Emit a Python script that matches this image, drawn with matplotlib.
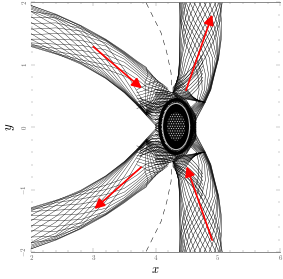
import matplotlib
matplotlib.use("Agg")
import matplotlib.pyplot as plt
from matplotlib.patches import Ellipse

plt.rcParams['mathtext.fontset'] = 'cm'
plt.rcParams['font.family'] = ['cmr10', 'DejaVu Serif']
plt.rcParams['axes.formatter.use_mathtext'] = True
plt.rcParams['hatch.linewidth'] = 0.3

# left fan, upper half: y read at these x positions
left_x = [2.0, 2.4, 2.8, 3.2, 3.5, 3.7, 3.85]
shallow_rows = [
    [1.95, 1.81, 1.63, 1.41, 1.21, 1.06, 0.96],
    [1.85, 1.80, 1.62, 1.40, 1.20, 1.05, 0.95],
    [1.76, 1.75, 1.60, 1.40, 1.19, 1.04, 0.93],
    [1.66, 1.67, 1.58, 1.39, 1.18, 1.03, 0.91],
    [1.57, 1.59, 1.54, 1.38, 1.17, 1.01, 0.89],
    [1.48, 1.50, 1.48, 1.35, 1.16, 0.99, 0.86],
    [1.41, 1.41, 1.39, 1.30, 1.13, 0.96, 0.83],
    [1.35, 1.33, 1.31, 1.24, 1.09, 0.92, 0.79],
    [1.32, 1.26, 1.23, 1.16, 1.04, 0.88, 0.75],
    [1.31, 1.21, 1.15, 1.08, 0.98, 0.84, 0.70],
    [1.30, 1.18, 1.08, 1.00, 0.90, 0.77, 0.65],
    [1.29, 1.17, 1.04, 0.93, 0.82, 0.71, 0.59],
]
left_tip_x = [3.88, 3.95, 4.00, 4.04, 4.08, 4.12, 4.15, 4.18, 4.21, 4.24, 4.26, 4.28]
left_tip_y = [0.84, 0.83, 0.78, 0.74, 0.71, 0.68, 0.65, 0.62, 0.59, 0.56, 0.53, 0.50]
steep_rows = [
    [1.95, 1.80, 1.62, 1.32, 0.92, 0.58, 0.33],
    [1.93, 1.78, 1.58, 1.19, 0.79, 0.48, 0.26],
    [1.91, 1.76, 1.52, 1.10, 0.69, 0.41, 0.23],
    [1.89, 1.74, 1.44, 1.01, 0.63, 0.40, 0.225],
    [1.86, 1.70, 1.35, 0.93, 0.605, 0.39, 0.22],
    [1.85, 1.62, 1.26, 0.87, 0.59, 0.385, 0.22],
    [1.77, 1.52, 1.17, 0.84, 0.58, 0.38, 0.215],
    [1.68, 1.43, 1.10, 0.82, 0.57, 0.375, 0.21],
    [1.59, 1.33, 1.06, 0.80, 0.565, 0.37, 0.205],
    [1.50, 1.25, 1.03, 0.79, 0.56, 0.365, 0.20],
    [1.41, 1.20, 1.02, 0.785, 0.555, 0.36, 0.195],
    [1.34, 1.18, 1.01, 0.78, 0.55, 0.355, 0.19],
]
wrap_x = [4.0, 4.15, 4.33, 4.5, 4.65]
wrap_rows = [
    [0.47, 0.47, 0.44, 0.32, 0.12],
    [0.43, 0.45, 0.43, 0.31, 0.10],
    [0.40, 0.42, 0.42, 0.30, 0.08],
    [0.36, 0.40, 0.41, 0.29, 0.06],
    [0.32, 0.37, 0.40, 0.28, 0.04],
    [0.28, 0.34, 0.39, 0.27, 0.02],
    [0.24, 0.31, 0.38, 0.26, 0.00],
    [0.19, 0.27, 0.37, 0.25, -0.02],
    [0.14, 0.23, 0.36, 0.24, -0.04],
    [0.07, 0.18, 0.35, 0.22, -0.06],
    [0.05, 0.15, 0.33, 0.21, -0.07],
    [0.03, 0.12, 0.31, 0.19, -0.08],
]
over_rows = [
    [0.60, 0.58, 0.54, 0.42, 0.18],
    [0.56, 0.55, 0.51, 0.40, 0.16],
    [0.52, 0.52, 0.49, 0.38, 0.14],
    [0.50, 0.50, 0.47, 0.36, 0.13],
    [0.45, 0.46, 0.45, 0.34, 0.11],
    [0.38, 0.41, 0.42, 0.31, 0.07],
    [0.30, 0.35, 0.39, 0.28, 0.03],
    [0.22, 0.29, 0.38, 0.25, -0.01],
    [0.11, 0.21, 0.36, 0.23, -0.05],
    [0.04, 0.14, 0.30, 0.20, -0.08],
    [0.00, 0.09, 0.24, 0.16, -0.10],
    [-0.03, 0.03, 0.15, 0.10, -0.12],
]
# scallop arcs beside the left fan
left_arc_x = [3.7, 3.8, 3.9, 4.0, 4.1, 4.2]
left_arc_rows = [
    [0.60, 0.65, 0.70, 0.73, 0.70, 0.62],
    [0.55, 0.58, 0.62, 0.66, 0.66, 0.60],
    [0.50, 0.53, 0.56, 0.60, 0.60, 0.55],
    [0.45, 0.48, 0.51, 0.54, 0.55, 0.51],
    [0.40, 0.43, 0.46, 0.49, 0.50, 0.47],
    [0.35, 0.38, 0.41, 0.44, 0.46, 0.43],
    [0.30, 0.33, 0.37, 0.40, 0.42, 0.40],
]
wedge_x = [3.75, 3.85, 3.95, 4.05, 4.2, 4.33]
wedge_rows = [
    [0.46, 0.42, 0.38, 0.36, 0.40, 0.46],
    [0.42, 0.37, 0.33, 0.32, 0.37, 0.44],
    [0.39, 0.33, 0.28, 0.27, 0.33, 0.42],
    [0.36, 0.28, 0.23, 0.23, 0.30, 0.40],
    [0.34, 0.25, 0.18, 0.18, 0.26, 0.38],
    [0.33, 0.22, 0.13, 0.12, 0.22, 0.36],
]

# right fan, upper half: x read at these y positions
right_y = [2.0, 1.7, 1.4, 1.1, 0.85, 0.6, 0.4]
outer_rows = [
    [4.39, 4.40, 4.46, 4.59, 4.68, 4.70, 4.66],
    [4.40, 4.42, 4.52, 4.66, 4.74, 4.75, 4.69],
    [4.42, 4.45, 4.59, 4.74, 4.80, 4.79, 4.71],
    [4.44, 4.49, 4.66, 4.81, 4.85, 4.82, 4.73],
    [4.46, 4.55, 4.73, 4.87, 4.89, 4.84, 4.75],
    [4.49, 4.62, 4.80, 4.92, 4.91, 4.85, 4.76],
    [4.55, 4.70, 4.86, 4.96, 4.92, 4.86, 4.77],
    [4.62, 4.77, 4.92, 4.985, 4.93, 4.865, 4.775],
    [4.70, 4.85, 4.97, 4.995, 4.935, 4.87, 4.78],
    [4.78, 4.92, 5.00, 5.00, 4.94, 4.875, 4.785],
    [4.86, 4.98, 5.03, 5.005, 4.94, 4.88, 4.79],
    [4.95, 5.03, 5.045, 5.01, 4.945, 4.885, 4.795],
    [5.03, 5.06, 5.055, 5.015, 4.95, 4.89, 4.80],
]
inner_y = [2.0, 1.7, 1.4, 1.1, 0.85]
inner_rows = [
    [4.39, 4.39, 4.39, 4.385, 4.37],
    [4.43, 4.40, 4.39, 4.39, 4.37],
    [4.49, 4.42, 4.40, 4.39, 4.37],
    [4.56, 4.47, 4.42, 4.40, 4.375],
    [4.64, 4.52, 4.45, 4.41, 4.38],
    [4.73, 4.59, 4.48, 4.42, 4.39],
    [4.82, 4.66, 4.53, 4.45, 4.41],
    [4.90, 4.74, 4.60, 4.49, 4.43],
    [4.97, 4.82, 4.67, 4.54, 4.46],
    [5.02, 4.89, 4.74, 4.60, 4.50],
    [5.05, 4.96, 4.81, 4.66, 4.55],
    [5.07, 5.01, 4.88, 4.72, 4.60],
    [5.07, 5.04, 4.94, 4.79, 4.65],
]
right_tip_x = [4.36, 4.345, 4.335, 4.325, 4.315, 4.305, 4.30, 4.295, 4.29, 4.285, 4.28, 4.275, 4.27]
right_tip_y = [0.78, 0.74, 0.71, 0.68, 0.66, 0.64, 0.62, 0.60, 0.58, 0.57, 0.56, 0.55, 0.54]
cross_y = [0.25, 0.10, -0.05, -0.20]
cross_rows = [
    [4.50, 4.42, 4.34, 4.24],
    [4.52, 4.44, 4.36, 4.26],
    [4.54, 4.46, 4.38, 4.28],
    [4.56, 4.48, 4.40, 4.30],
    [4.58, 4.50, 4.42, 4.32],
    [4.60, 4.52, 4.44, 4.34],
    [4.62, 4.54, 4.46, 4.36],
    [4.64, 4.56, 4.48, 4.38],
    [4.66, 4.58, 4.50, 4.40],
    [4.68, 4.60, 4.52, 4.42],
    [4.69, 4.61, 4.54, 4.45],
    [4.71, 4.63, 4.56, 4.48],
    [4.72, 4.64, 4.58, 4.50],
]
# scallop arcs beside the right fan
right_arc_x = [4.28, 4.36, 4.46, 4.56, 4.66, 4.76]
right_arc_rows = [
    [0.56, 0.46, 0.44, 0.50, 0.60, 0.75],
    [0.57, 0.50, 0.50, 0.56, 0.66, 0.80],
    [0.58, 0.54, 0.55, 0.62, 0.72, 0.86],
    [0.59, 0.58, 0.60, 0.68, 0.78, 0.92],
    [0.60, 0.62, 0.65, 0.74, 0.84, 0.98],
    [0.61, 0.65, 0.70, 0.80, 0.90, 1.04],
    [0.62, 0.70, 0.76, 0.86, 0.96, 1.10],
    [0.63, 0.75, 0.82, 0.92, 1.02, 1.16],
]

dash_x = [3.85, 3.97, 4.09, 4.18, 4.25, 4.26]
dash_y = [1.99, 1.75, 1.51, 1.20, 0.87, 0.63]

arrow_starts = [(3.00, 1.29), (4.49, 0.59), (3.77, -0.64), (4.91, -1.81)]
arrow_tips = [(3.78, 0.62), (4.91, 1.80), (3.02, -1.31), (4.50, -0.63)]

x_ticks = [2, 3, 4, 5, 6]
y_ticks = [-2, -1, 0, 1, 2]
minor_x = [2.2, 2.4, 2.6, 2.8, 3.2, 3.4, 3.6, 3.8, 4.2, 4.4, 4.6, 4.8, 5.2, 5.4, 5.6, 5.8]
minor_y = [-1.8, -1.6, -1.4, -1.2, -0.8, -0.6, -0.4, -0.2, 0.2, 0.4, 0.6, 0.8, 1.2, 1.4, 1.6, 1.8]

fig = plt.figure(figsize=(2.83, 2.79), dpi=100)
ax = fig.add_axes([31 / 283, 1 - 252 / 279, 249 / 283, 249.7 / 279])
LW_L = 0.27
LW_R = 0.33

for sign in (1, -1):
    for k in range(len(shallow_rows)):
        xs = left_x + [left_tip_x[k], left_tip_x[k] - 0.05] + left_x[-1:]
        ys = shallow_rows[k] + [left_tip_y[k], left_tip_y[k] - 0.13] + steep_rows[k][-1:]
        ax.plot(xs, [sign * v for v in ys], color='k', lw=LW_L, solid_joinstyle='round')
        ax.plot(left_x + wrap_x, [sign * v for v in steep_rows[k] + wrap_rows[k]],
                color='k', lw=LW_L, solid_joinstyle='round')
    for k in range(len(inner_rows)):
        xs = inner_rows[k] + [right_tip_x[k], right_tip_x[k] + 0.07] + outer_rows[k][-1:]
        ys = inner_y + [right_tip_y[k], right_tip_y[k] - 0.07] + right_y[-1:]
        ax.plot(xs, [sign * v for v in ys], color='k', lw=LW_R, solid_joinstyle='round')
        ax.plot(outer_rows[k] + cross_rows[k], [sign * v for v in right_y + cross_y],
                color='k', lw=LW_R, solid_joinstyle='round')
    for row in over_rows:
        ax.plot(wrap_x, [sign * v for v in row], color='k', lw=0.5)
    for row in left_arc_rows:
        ax.plot(left_arc_x, [sign * v for v in row], color='k', lw=LW_L)
    for row in wedge_rows:
        ax.plot(wedge_x, [sign * v for v in row], color='k', lw=0.5)
    for row in right_arc_rows:
        ax.plot(right_arc_x, [sign * v for v in row], color='k', lw=LW_R)
    ax.plot(dash_x, [sign * v for v in dash_y], color='k', lw=0.35, ls=(0, (11, 10)))

# ring and stippled core
CY = 0.01
ax.add_patch(Ellipse((4.33, CY), 0.52, 0.86, fc='none', ec='k', lw=2.4, zorder=3))
ax.add_patch(Ellipse((4.33, CY), 0.434, 0.74, fc='k', ec='none', zorder=4))
ax.add_patch(Ellipse((4.33, CY), 0.434, 0.74, fc='none', ec='#bbbbbb', lw=0.8, zorder=5))
ax.add_patch(Ellipse((4.33, CY), 0.29, 0.45, fc='#111111', ec='white', lw=0, hatch='.......', zorder=6))

for s, t in zip(arrow_starts, arrow_tips):
    ax.annotate('', xy=t, xytext=s, zorder=8,
                arrowprops=dict(arrowstyle='-|>,head_length=0.6,head_width=0.3',
                                color='#ff0000', lw=1.2, shrinkA=0, shrinkB=0,
                                mutation_scale=10))

ax.set_xlim(2, 6)
ax.set_ylim(-2, 2)
for side in ('left', 'right'):
    ax.spines[side].set_visible(False)
for side in ('top', 'bottom'):
    ax.spines[side].set_color('#777777')
    ax.spines[side].set_linewidth(0.6)
ax.set_xticks(x_ticks)
ax.set_yticks(y_ticks)
ax.set_xticks(minor_x, minor=True)
ax.set_yticks(minor_y, minor=True)
ax.set_xticklabels([str(v) for v in x_ticks], fontsize=5, color='#666666')
ax.set_yticklabels(['$-2$', '$-1$', '0', '1', '2'], fontsize=5, rotation=90, va='center', color='#666666')
ax.tick_params(which='major', direction='in', length=3, width=0.35, color='#999999',
               top=True, right=True, pad=2.5)
ax.tick_params(which='minor', direction='in', length=1.5, width=0.35, color='#999999',
               top=True, right=True)
ax.set_xlabel('$x$', fontsize=9, labelpad=2)
ax.set_ylabel('$y$', fontsize=9, labelpad=1)
fig.savefig('out.png', dpi=100)
